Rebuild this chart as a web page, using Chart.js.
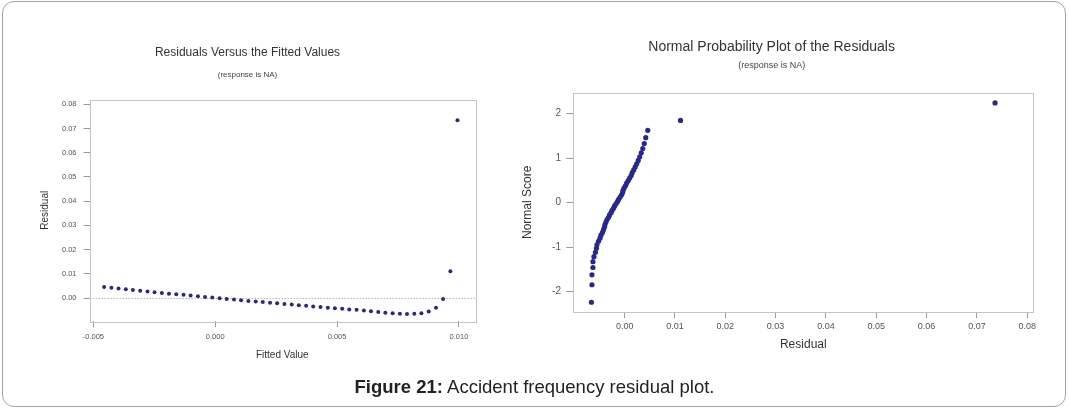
<!DOCTYPE html>
<html>
<head>
<meta charset="utf-8">
<script src="https://cdn.jsdelivr.net/npm/chart.js@4.4.0/dist/chart.umd.min.js"></script>
<style>
  html, body { margin: 0; padding: 0; background: #fff; }
  body { width: 1069px; height: 411px; position: relative; overflow: hidden; font-family: 'Liberation Sans', Arial, sans-serif; }
  #frame { position: absolute; left: 2px; top: 1px; width: 1062px; height: 404px; border: 1px solid #a3a3a3; border-radius: 12px; }
  #leftChart { position: absolute; left: 20px; top: 0; }
  #rightChart { position: absolute; left: 510px; top: 0; }
  #caption { position: absolute; left: 0; top: 376px; width: 1069px; text-align: center; font-size: 18.5px; line-height: 21px; color: #222; }
</style>
</head>
<body>
<div id="frame"></div>
<canvas id="leftChart" width="490" height="411"></canvas>
<canvas id="rightChart" width="554" height="411"></canvas>
<div id="caption"><b>Figure 21:</b> Accident frequency residual plot.</div>

<script>
// --- data ---

// left panel: residual vs fitted (50 observations)
const fittedValues = [
  -0.00456, -0.00426, -0.00397, -0.00367, -0.00338, -0.00308, -0.00278, -0.00249, -0.00219, -0.00190,
  -0.00160, -0.00130, -0.00101, -0.00071, -0.00042, -0.00012, 0.00018, 0.00047, 0.00077, 0.00106,
  0.00136, 0.00166, 0.00195, 0.00225, 0.00254, 0.00284, 0.00314, 0.00343, 0.00373, 0.00402,
  0.00432, 0.00462, 0.00491, 0.00521, 0.00550, 0.00580, 0.00610, 0.00639, 0.00669, 0.00698,
  0.00728, 0.00758, 0.00787, 0.00817, 0.00846, 0.00876, 0.00906, 0.00935, 0.00965, 0.00994
];
const residuals = [
  0.0045, 0.0042, 0.0039, 0.0036, 0.0033, 0.0030, 0.0027, 0.0024, 0.0021, 0.0018,
  0.0015, 0.0013, 0.0010, 0.0007, 0.0004, 0.0002, -0.0001, -0.0004, -0.0006, -0.0009,
  -0.0012, -0.0014, -0.0017, -0.0020, -0.0022, -0.0025, -0.0027, -0.0030, -0.0032, -0.0035,
  -0.0037, -0.0040, -0.0042, -0.0044, -0.0047, -0.0049, -0.0052, -0.0055, -0.0058, -0.0061,
  -0.0063, -0.0065, -0.0066, -0.0065, -0.0063, -0.0056, -0.0040, -0.0004, 0.0110, 0.0734
];
const fittedTicks = [-0.005, 0.000, 0.005, 0.010];
const residualTicks = [0.00, 0.01, 0.02, 0.03, 0.04, 0.05, 0.06, 0.07, 0.08];

// right panel: normal probability plot (sorted residuals vs normal score)
const sortedResiduals = [
  -0.0066, -0.0065, -0.0065, -0.0063, -0.0063, -0.0061, -0.0058, -0.0056, -0.0055, -0.0052,
  -0.0049, -0.0047, -0.0044, -0.0042, -0.0040, -0.0039, -0.0037, -0.0035, -0.0032, -0.0030,
  -0.0027, -0.0025, -0.0022, -0.0020, -0.0017, -0.0014, -0.0012, -0.0009, -0.0006, -0.0004,
  -0.0003, -0.0001, 0.0002, 0.0004, 0.0007, 0.0010, 0.0013, 0.0015, 0.0018, 0.0021,
  0.0024, 0.0027, 0.0030, 0.0033, 0.0036, 0.0039, 0.0042, 0.0046, 0.0111, 0.0736
];
const normalScores = [
  -2.241, -1.847, -1.624, -1.460, -1.328, -1.216, -1.118, -1.029, -0.948, -0.872,
  -0.801, -0.734, -0.671, -0.609, -0.550, -0.493, -0.438, -0.383, -0.330, -0.278,
  -0.227, -0.176, -0.125, -0.075, -0.025, 0.025, 0.075, 0.125, 0.176, 0.227,
  0.278, 0.330, 0.383, 0.438, 0.493, 0.550, 0.609, 0.671, 0.734, 0.801,
  0.872, 0.948, 1.029, 1.118, 1.216, 1.328, 1.460, 1.624, 1.847, 2.241
];
const probXTicks = [0.00, 0.01, 0.02, 0.03, 0.04, 0.05, 0.06, 0.07, 0.08];
const probYTicks = [-2, -1, 0, 1, 2];

// --- styling ---
const DOT = '#27288f';
const FONT = "'Liberation Sans', Arial, sans-serif";
Chart.defaults.font.family = FONT;
Chart.defaults.color = '#555';

// box around the plot area, plus optional dotted line at y = 0
const plotFrame = {
  id: 'plotFrame',
  beforeDatasetsDraw(chart, args, opts) {
    const a = chart.chartArea;
    const ctx = chart.ctx;
    ctx.save();
    ctx.lineWidth = 1;
    if (opts.zeroLine) {
      const y = Math.round(chart.scales.y.getPixelForValue(0)) + 0.5;
      ctx.strokeStyle = '#b5b5b5';
      ctx.setLineDash([1.5, 1.5]);
      ctx.beginPath();
      ctx.moveTo(a.left, y);
      ctx.lineTo(a.right, y);
      ctx.stroke();
      ctx.setLineDash([]);
    }
    ctx.strokeStyle = '#c4c4c4';
    ctx.strokeRect(Math.round(a.left) + 0.5, Math.round(a.top) + 0.5,
      Math.round(a.right - a.left), Math.round(a.bottom - a.top));
    ctx.restore();
  }
};

function toPoints(xs, ys) {
  return xs.map((x, i) => ({ x: x, y: ys[i] }));
}

function makeAxis(o) {
  return {
    type: 'linear',
    min: o.min,
    max: o.max,
    afterBuildTicks: (scale) => { scale.ticks = o.ticks.map(v => ({ value: v })); },
    afterFit: (scale) => {
      if (o.width) scale.width = o.width;
      if (o.height) scale.height = o.height;
    },
    border: { display: false },
    grid: { drawOnChartArea: false, drawTicks: true, tickLength: o.tickLength, tickColor: '#9a9a9a' },
    ticks: {
      autoSkip: false,
      maxRotation: 0,
      padding: o.tickPad,
      font: { size: o.tickSize },
      color: '#555',
      callback: o.fmt
    },
    title: {
      display: true,
      text: o.title,
      color: '#333',
      font: { size: o.titleSize },
      padding: o.titlePad
    }
  };
}

function baseOptions(o) {
  return {
    responsive: false,
    animation: false,
    devicePixelRatio: 1,
    events: [],
    layout: { padding: o.padding },
    plugins: {
      legend: { display: false },
      tooltip: { enabled: false },
      plotFrame: { zeroLine: o.zeroLine },
      title: {
        display: true,
        text: o.title,
        color: '#333',
        font: { size: o.titleSize, weight: 'normal' },
        padding: o.titlePad
      },
      subtitle: {
        display: true,
        text: '(response is NA)',
        color: '#444',
        font: { size: o.subSize },
        padding: o.subPad
      }
    },
    scales: o.scales
  };
}

// --- left: Residuals Versus the Fitted Values ---
new Chart(document.getElementById('leftChart'), {
  type: 'scatter',
  data: {
    datasets: [{
      data: toPoints(fittedValues, residuals),
      pointRadius: 2,
      pointBackgroundColor: DOT,
      pointBorderWidth: 0
    }]
  },
  options: baseOptions({
    padding: { left: 0, right: 35, top: 0, bottom: 50 },
    zeroLine: true,
    title: 'Residuals Versus the Fitted Values',
    titleSize: 12,
    titlePad: { top: 45, bottom: 0 },
    subSize: 8,
    subPad: { top: 10.8, bottom: 19.7 },
    scales: {
      x: makeAxis({
        min: -0.00516, max: 0.01066, ticks: fittedTicks, fmt: v => v.toFixed(3),
        height: 40, tickLength: 6, tickPad: 5, tickSize: 7.5,
        title: 'Fitted Value', titleSize: 10, titlePad: { top: 0, bottom: 0 }
      }),
      y: makeAxis({
        min: -0.0095, max: 0.082, ticks: residualTicks, fmt: v => v.toFixed(2),
        width: 69.5, tickLength: 6, tickPad: 7, tickSize: 7.5,
        title: 'Residual', titleSize: 10, titlePad: { top: 19, bottom: 0 }
      })
    }
  }),
  plugins: [plotFrame]
});

// --- right: Normal Probability Plot of the Residuals ---
new Chart(document.getElementById('rightChart'), {
  type: 'scatter',
  data: {
    datasets: [{
      data: toPoints(sortedResiduals, normalScores),
      pointRadius: 2.6,
      pointBackgroundColor: DOT,
      pointBorderWidth: 0
    }]
  },
  options: baseOptions({
    padding: { left: 0, right: 30.7, top: 0, bottom: 58.8 },
    zeroLine: false,
    title: 'Normal Probability Plot of the Residuals',
    titleSize: 14,
    titlePad: { top: 38.3, bottom: 0 },
    subSize: 9,
    subPad: { top: 5.2, bottom: 21.6 },
    scales: {
      x: makeAxis({
        min: -0.0102, max: 0.0812, ticks: probXTicks, fmt: v => v.toFixed(2),
        height: 40.2, tickLength: 6, tickPad: 3.3, tickSize: 9,
        title: 'Residual', titleSize: 12, titlePad: { top: 0, bottom: 0 }
      }),
      y: makeAxis({
        min: -2.46, max: 2.47, ticks: probYTicks, fmt: v => String(v),
        width: 63.3, tickLength: 7, tickPad: 5.3, tickSize: 10,
        title: 'Normal Score', titleSize: 12, titlePad: { top: 10.8, bottom: 0 }
      })
    }
  }),
  plugins: [plotFrame]
});
</script>
</body>
</html>
